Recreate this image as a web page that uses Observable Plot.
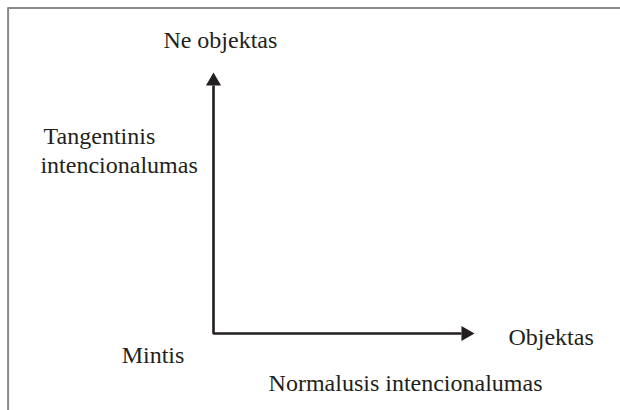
<!DOCTYPE html>
<html><head><meta charset="utf-8">
<script src="https://cdn.jsdelivr.net/npm/d3@7"></script>
<script src="https://cdn.jsdelivr.net/npm/@observablehq/plot@0.6"></script>
<style>body{margin:0;background:#fff;color:#231f20}</style>
</head><body><div id="chart"></div>
<script>
// Diagram labels (conceptual coordinates: origin = "Mintis" corner, arrow tips at 1)
const labels = ["Ne objektas", "Tangentinis", "intencionalumas", "Mintis", "Objektas", "Normalusis intencionalumas"];
const labelX = [-0.192, -0.651, -0.663, -0.352, 1.130, 0.211];
const labelY = [1.123, 0.755, 0.644, -0.084, -0.015, -0.192];
// Axis polyline (vertical up, corner, horizontal right)
const axisX = [0, 0, 0.95];
const axisY = [0.95, 0, 0];
// Arrow heads
const headUpX = [0], headUpY = [1];
const headRightX = [1], headRightY = [0];
// Box border (top and left edges only)
const borderTop = [1.247], borderLeft = [-0.787], borderBottom = -0.3, borderRight = 1.6;

const labelData = labels.map((t, i) => ({t, x: labelX[i], y: labelY[i]}));
const axisData = axisX.map((x, i) => ({x, y: axisY[i]}));
const ink = "#231f20";
const gray = "#8a8a8a";

const chart = Plot.plot({
  width: 620, height: 410,
  margin: 0,
  x: {domain: [0, 1], range: [213, 474], axis: null},
  y: {domain: [0, 1], range: [333, 72], axis: null},
  marks: [
    Plot.ruleY(borderTop, {x1: borderLeft[0], x2: borderRight, stroke: gray, strokeWidth: 2}),
    Plot.ruleX(borderLeft, {y1: borderTop[0], y2: borderBottom, stroke: gray, strokeWidth: 2}),
    Plot.line(axisData, {x: "x", y: "y", stroke: ink, strokeWidth: 2.6, strokeLinejoin: "miter", strokeLinecap: "butt"}),
    Plot.dot(headUpX.map((x, i) => ({x, y: headUpY[i]})), {x: "x", y: "y", symbol: "triangle", r: 5.6, fill: ink, stroke: "none", dy: 8.7}),
    Plot.dot(headRightX.map((x, i) => ({x, y: headRightY[i]})), {x: "x", y: "y", symbol: "triangle", r: 5.6, fill: ink, stroke: "none", rotate: 90, dx: -8.7}),
    Plot.text(labelData, {x: "x", y: "y", text: "t", textAnchor: "start", fontSize: 24, fontFamily: "Liberation Serif"})
  ]
});
document.getElementById("chart").appendChild(chart);
</script>
</body></html>
